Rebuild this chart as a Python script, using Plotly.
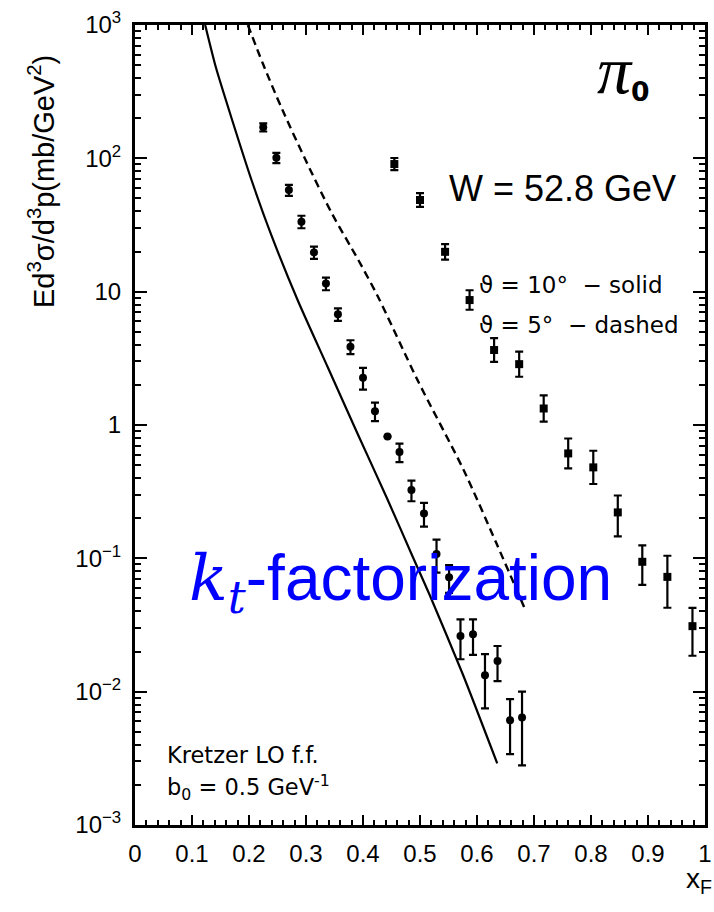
import plotly.graph_objects as go

# pi0 invariant cross section, W = 52.8 GeV
# theta = 10 deg data (circles)
xf_10 = [0.225, 0.248, 0.270, 0.292, 0.314, 0.335, 0.356, 0.378, 0.400, 0.421,
         0.443, 0.464, 0.485, 0.507, 0.529, 0.551, 0.571, 0.593, 0.614, 0.636,
         0.658, 0.679]
sig_10 = [171, 101, 57.8, 33.5, 19.7, 11.5, 6.76, 3.86, 2.26, 1.27,
          0.82, 0.626, 0.325, 0.217, 0.108, 0.072, 0.0262, 0.0269, 0.0133, 0.0170,
          0.0061, 0.0064]
err_10 = [12, 9, 5.5, 3.6, 2.1, 1.25, 0.73, 0.46, 0.42, 0.2,
          0.0, 0.1, 0.057, 0.044, 0.03, 0.017, 0.0087, 0.008, 0.0058, 0.005,
          0.0027, 0.0036]

# theta = 5 deg data (squares)
xf_5 = [0.455, 0.500, 0.544, 0.587, 0.630, 0.674, 0.717, 0.760, 0.804, 0.847,
        0.890, 0.934, 0.978]
sig_5 = [90.6, 48.7, 19.9, 8.65, 3.65, 2.86, 1.33, 0.612, 0.481, 0.221,
         0.0942, 0.0726, 0.031]
err5_up = [10, 6.2, 2.8, 1.6, 0.84, 0.69, 0.34, 0.18, 0.16, 0.075,
           0.031, 0.032, 0.0115]
err5_dn = [9, 5.5, 2.5, 1.33, 0.68, 0.56, 0.27, 0.14, 0.12, 0.075,
           0.031, 0.030, 0.0124]

# k_t-factorization curves
xf_solid = [0.1231, 0.1416, 0.1704, 0.2050, 0.2397, 0.2860, 0.3380, 0.3899,
            0.4419, 0.4882, 0.5170, 0.5749, 0.6355]
sig_solid = [1000, 486, 194, 67.6, 26.2, 8.51, 2.72, 0.871,
             0.2835, 0.1006, 0.0531, 0.01357, 0.0029]
xf_dash = [0.198, 0.2241, 0.2588, 0.2993, 0.3454, 0.3917, 0.4263, 0.4957,
           0.5766, 0.6343, 0.6863]
sig_dash = [1000, 516, 230, 97.0, 38.6, 17.3, 9.16, 2.17,
            0.459, 0.129, 0.0397]

y_tickvals = [1e-3, 1e-2, 1e-1, 1, 10, 100, 1000]
y_ticktext = ["10<sup>−3</sup>", "10<sup>−2</sup>", "10<sup>−1</sup>", "1", "10",
              "10<sup>2</sup>", "10<sup>3</sup>"]
x_tickvals = [0, 0.1, 0.2, 0.3, 0.4, 0.5, 0.6, 0.7, 0.8, 0.9, 1]
x_ticktext = ["0", "0.1", "0.2", "0.3", "0.4", "0.5", "0.6", "0.7", "0.8", "0.9", "1"]

FONT = "Liberation Sans, Arial, sans-serif"
WIDE = "DejaVu Sans, sans-serif"

fig = go.Figure()

fig.add_trace(go.Scatter(
    x=xf_solid, y=sig_solid, mode="lines",
    line=dict(color="black", width=2.2, shape="spline", smoothing=0.6),
    showlegend=False))
fig.add_trace(go.Scatter(
    x=xf_dash, y=sig_dash, mode="lines",
    line=dict(color="black", width=2.4, dash="8px,5px", shape="spline", smoothing=0.8),
    showlegend=False))

fig.add_trace(go.Scatter(
    x=xf_10, y=sig_10, mode="markers",
    marker=dict(symbol="circle", size=8, color="black"),
    error_y=dict(type="data", array=err_10, symmetric=True,
                 color="black", thickness=2.2, width=4),
    showlegend=False))
fig.add_trace(go.Scatter(
    x=xf_5, y=sig_5, mode="markers",
    marker=dict(symbol="square", size=8, color="black"),
    error_y=dict(type="data", array=err5_up, arrayminus=err5_dn, symmetric=False,
                 color="black", thickness=2.2, width=4),
    showlegend=False))

fig.update_xaxes(
    range=[0, 1], tickvals=x_tickvals, ticktext=x_ticktext,
    showline=True, linewidth=3, linecolor="black", mirror="ticks",
    ticks="inside", ticklen=10, tickwidth=1.5, tickcolor="black",
    minor=dict(ticks="inside", dtick=0.02, ticklen=5, tickwidth=1.5, tickcolor="black"),
    showgrid=False, zeroline=False,
    tickfont=dict(family=FONT, size=24, color="black"),
    ticklabelstandoff=5, ticklabeloverflow="allow",
)
fig.update_yaxes(
    type="log", range=[-3, 3], tickvals=y_tickvals, ticktext=y_ticktext,
    showline=True, linewidth=3, linecolor="black", mirror="ticks",
    ticks="inside", ticklen=12, tickwidth=1.5, tickcolor="black",
    minor=dict(ticks="inside", dtick="D1", ticklen=6, tickwidth=1.5, tickcolor="black"),
    showgrid=False, zeroline=False,
    tickfont=dict(family=FONT, size=24, color="black"),
    ticklabelstandoff=6,
)

annotations = [
    dict(text="Ed<sup>3</sup>σ/d<sup>3</sup>p(mb/GeV<sup>2</sup>)", x=-0.1646, y=0.804,
         textangle=-90, font=dict(family=FONT, size=29, color="black")),
    dict(text="<span style='font-family:Liberation Serif;font-size:68px'><i>π</i></span>"
              "<sub><b>0</b></sub>",
         x=0.857, y=0.944, font=dict(family=WIDE, size=38, color="black")),
    dict(text="W = 52.8 GeV", x=0.750, y=0.796,
         font=dict(family=FONT, size=36, color="black")),
    dict(text="ϑ = 10°  − solid", x=0.5997, y=0.675, xanchor="left",
         font=dict(family=WIDE, size=23, color="black")),
    dict(text="ϑ = 5°  − dashed", x=0.5997, y=0.625, xanchor="left",
         font=dict(family=WIDE, size=23, color="black")),
    dict(text="<span style='font-family:DejaVu Serif'><i>k<sub>t</sub></i></span>-factorization",
         x=0.465, y=0.303, font=dict(family=FONT, size=64, color="#0000ff")),
    dict(text="Kretzer LO f.f.", x=0.052, y=0.0875, xanchor="left",
         font=dict(family=WIDE, size=22.5, color="black")),
    dict(text="b<sub>0</sub> = 0.5 GeV<sup>-1</sup>", x=0.052, y=0.0475, xanchor="left",
         font=dict(family=WIDE, size=22.5, color="black")),
    dict(text="x<sub>F</sub>", x=0.990, y=-0.069,
         font=dict(family=FONT, size=28, color="black")),
]
for a in annotations:
    a.update(xref="paper", yref="paper", showarrow=False)
    a.setdefault("xanchor", "center")
    a.setdefault("yanchor", "middle")

fig.update_layout(
    width=714, height=912,
    margin=dict(l=135, r=2, t=25, b=87),
    plot_bgcolor="white", paper_bgcolor="white",
    annotations=annotations,
)

fig.write_html("out.html")
